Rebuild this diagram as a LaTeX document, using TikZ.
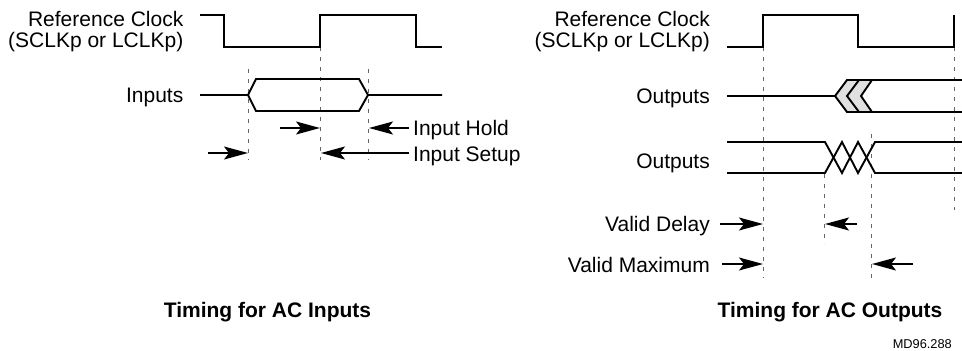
\documentclass[tikz,border=0pt]{standalone}
\usepackage{fontspec}
\setmainfont{Liberation Sans}
\usetikzlibrary{arrows.meta}
\begin{document}
\begin{tikzpicture}[x=1pt,y=-1pt,
  sig/.style={line width=1.9pt, line join=miter},
  guide/.style={draw=black!60, line width=1pt, dash pattern=on 4pt off 6pt},
  dimarrow/.style={line width=1.3pt, -{Stealth[length=24pt,width=13pt,inset=5pt]}},
  lbl/.style={anchor=base east, inner sep=0pt, font=\fontsize{21}{22}\selectfont},
  lblw/.style={anchor=base west, inner sep=0pt, font=\fontsize{21}{22}\selectfont},
  ttl/.style={anchor=base, inner sep=0pt, font=\fontsize{21}{22}\selectfont\bfseries},
  tag/.style={anchor=base east, inner sep=0pt, font=\fontsize{12.8}{13}\selectfont}]
\useasboundingbox (0,0) rectangle (962,351);

% ---------------- Left: inputs ----------------
% guide lines
\draw[guide] (248,69) -- (248,160);
\draw[guide] (320,47) -- (320,160);
\draw[guide] (368,69) -- (368,160);

% clock
\draw[sig] (200,15) -- (224,15) -- (224,47) -- (320,47) -- (320,15) -- (416,15) -- (416,47) -- (442,47);
% inputs
\draw[sig] (200,95) -- (248,95) -- (256,79) -- (359,79) -- (368,95) -- (442,95);
\draw[sig] (248,95) -- (256,111) -- (359,111) -- (368,95);

% labels
\node[lbl] (refL1) at (183.5,26) {Reference Clock};
\node[lbl] (refL2) at (183.5,47) {(SCLKp or LCLKp)};
\node[lbl] (inL) at (183.5,102) {Inputs};
\node[lblw] (hold) at (413,135) {Input Hold};
\node[lblw] (setup) at (413,161) {Input Setup};

% arrows
\coordinate (hA) at (280,128); \coordinate (hB) at (320,128);
\coordinate (hC) at (409,128); \coordinate (hD) at (369,128);
\coordinate (sA) at (208,153); \coordinate (sB) at (248,153);
\coordinate (sC) at (409,153); \coordinate (sD) at (321,153);
\draw[dimarrow] (hA) -- (hB);
\draw[dimarrow] (hC) -- (hD);
\draw[dimarrow] (sA) -- (sB);
\draw[dimarrow] (sC) -- (sD);

\node[ttl] (titleL) at (267.5,317) {Timing for AC Inputs};

% ---------------- Right: outputs ----------------
\draw[guide] (763,47) -- (763,278);
\draw[guide] (954,47) -- (954,210);
\draw[guide] (824,174) -- (824,244);
\draw[guide] (871,134) -- (871,278);

% clock
\draw[sig] (727,47) -- (763,47) -- (763,15) -- (858,15) -- (858,47) -- (954,47) -- (954,15);

% outputs 1 (chevrons)
\fill[black!12] (847,80) -- (872,80) -- (861,96) -- (872,112) -- (847,112) -- (835,96) -- cycle;
\draw[sig] (727,96) -- (835,96);
\draw[sig] (962,80) -- (847,80) -- (835,96) -- (847,112) -- (962,112);
\draw[sig] (859,80) -- (847,96) -- (859,112);
\draw[sig] (872,80) -- (861,96) -- (872,112);

% outputs 2 (crossings)
\draw[sig] (727,142) -- (825,142) -- (842,173) -- (858,142) -- (875,173) -- (962,173);
\draw[sig] (727,173) -- (825,173) -- (842,142) -- (858,173) -- (875,142) -- (962,142);

% labels
\node[lbl] (refR1) at (710,26) {Reference Clock};
\node[lbl] (refR2) at (710,47) {(SCLKp or LCLKp)};
\node[lbl] (outR1) at (710,103) {Outputs};
\node[lbl] (outR2) at (710,168) {Outputs};
\node[lbl] (vdel) at (710,231) {Valid Delay};
\node[lbl] (vmax) at (710,272) {Valid Maximum};

% arrows
\coordinate (dA) at (720,224); \coordinate (dB) at (763,224);
\coordinate (dC) at (857,224); \coordinate (dD) at (825,224);
\coordinate (mA) at (722,264); \coordinate (mB) at (763,264);
\coordinate (mC) at (913,264); \coordinate (mD) at (872,264);
\draw[dimarrow] (dA) -- (dB);
\draw[dimarrow] (dC) -- (dD);
\draw[dimarrow] (mA) -- (mB);
\draw[dimarrow] (mC) -- (mD);

\node[ttl] (titleR) at (830,317) {Timing for AC Outputs};
\node[tag] (code) at (952,348) {MD96.288};
\end{tikzpicture}
\end{document}
